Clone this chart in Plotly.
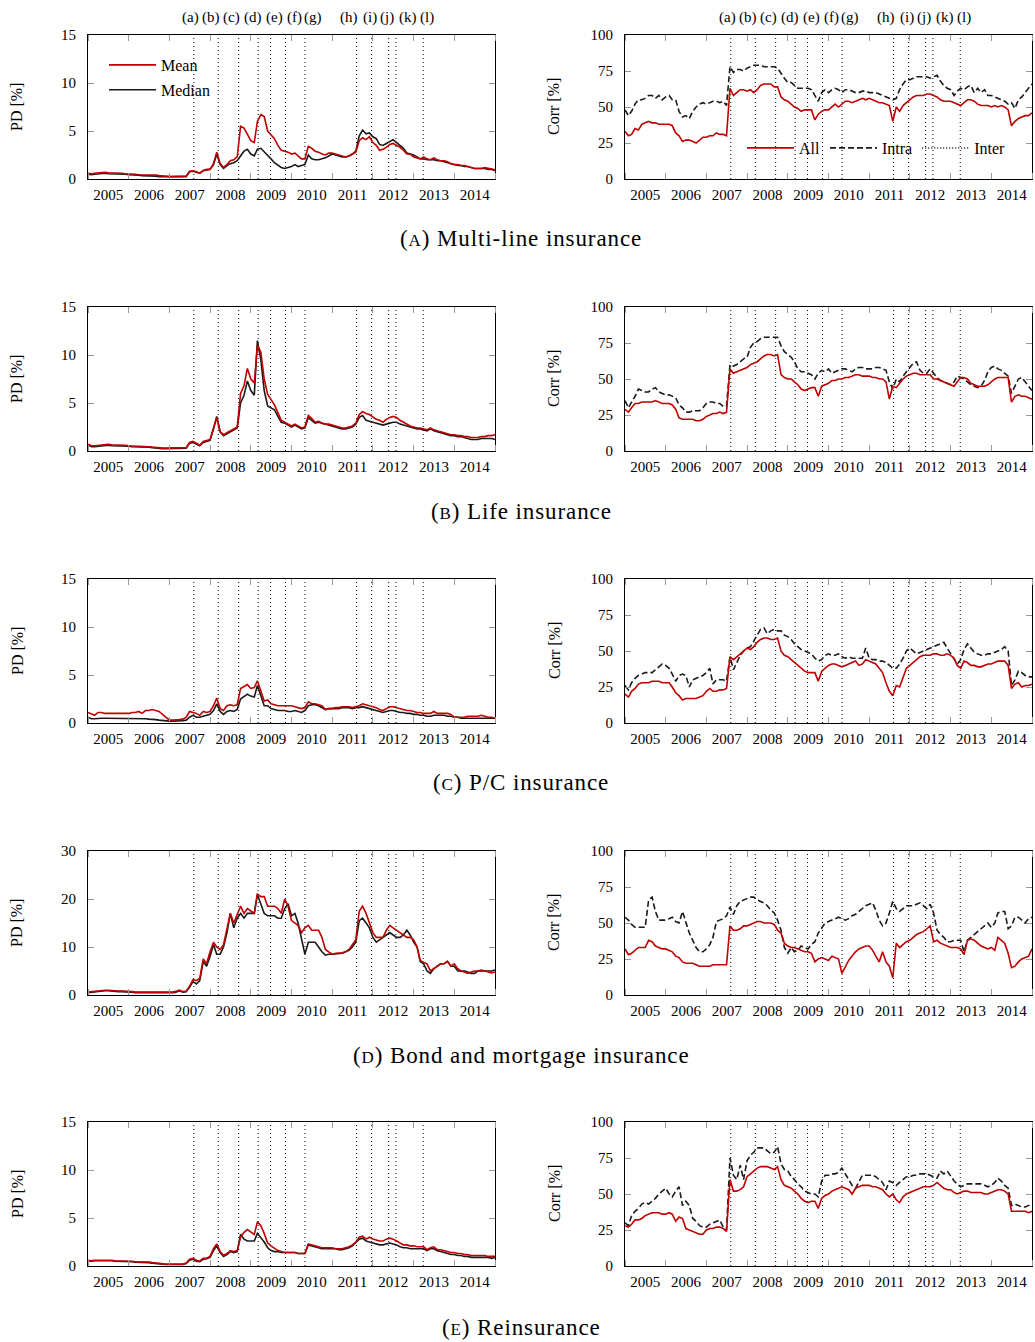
import pandas as pd
import plotly.graph_objects as go

# ---------------- data (monthly readings, Jan 2005 .. Jan 2015) ----------------
dates = pd.date_range("2005-01-01", "2015-01-01", freq="MS")

event_dates = ["2007-08-08", "2008-03-15", "2008-09-14", "2009-03-08", "2009-06-27", "2009-11-08",
               "2010-05-02", "2011-08-08", "2011-12-21", "2012-05-22", "2012-07-26", "2013-03-28"]
event_labels = ["(a)", "(b)", "(c)", "(d)", "(e)", "(f)", "(g)", "(h)", "(i)", "(j)", "(k)", "(l)"]

caption_letters = ["A", "B", "C", "D", "E"]
caption_texts = ["Multi-line insurance", "Life insurance", "P/C insurance",
                 "Bond and mortgage insurance", "Reinsurance"]

pd_mean_multiline = [
    0.6, 0.55, 0.6, 0.65, 0.7, 0.7, 0.65, 0.65, 0.6, 0.6, 0.6, 0.55,
    0.55, 0.5, 0.5, 0.45, 0.45, 0.4, 0.4, 0.4, 0.4, 0.35, 0.3, 0.25,
    0.25, 0.25, 0.25, 0.25, 0.25, 0.3, 0.8, 0.85, 0.75, 0.6, 0.9, 1.0,
    1.0, 1.6, 2.8, 1.6, 1.2, 1.5, 1.9, 2.0, 2.3, 5.5, 5.3, 4.6,
    4.0, 3.8, 6.0, 6.7, 6.5, 5.0, 4.6, 4.2, 3.5, 3.0, 2.9, 2.8,
    2.6, 2.7, 2.4, 2.1, 2.1, 3.4, 3.2, 2.9, 2.8, 2.6, 2.5, 2.7,
    2.7, 2.6, 2.5, 2.4, 2.3, 2.4, 2.6, 2.8, 4.0, 4.3, 4.1, 4.4,
    3.8, 3.5, 3.0, 3.1, 3.3, 3.6, 3.7, 3.5, 3.3, 3.0, 2.6, 2.6,
    2.3, 2.2, 2.1, 2.3, 2.1, 2.0, 2.2, 2.0, 1.9, 1.9, 1.8, 1.6,
    1.5, 1.5, 1.4, 1.4, 1.3, 1.2, 1.1, 1.1, 1.1, 1.2, 1.1, 1.0,
    0.95]
pd_median_multiline = [
    0.5, 0.45, 0.5, 0.55, 0.6, 0.6, 0.55, 0.55, 0.55, 0.5, 0.5, 0.5,
    0.45, 0.45, 0.4, 0.4, 0.35, 0.35, 0.35, 0.3, 0.3, 0.25, 0.25, 0.2,
    0.2, 0.2, 0.2, 0.2, 0.2, 0.25, 0.75, 0.8, 0.7, 0.6, 0.85, 0.95,
    1.0, 1.5, 2.6, 1.5, 1.1, 1.4, 1.6, 1.7, 1.9, 2.4, 2.9, 3.1,
    2.6, 2.4, 3.1, 3.2, 2.8, 2.5, 2.1, 1.7, 1.4, 1.2, 1.1, 1.2,
    1.3, 1.5, 1.3, 1.4, 1.5, 2.5, 2.1, 2.0, 2.0, 2.1, 2.2, 2.4,
    2.6, 2.5, 2.4, 2.3, 2.3, 2.4, 2.6, 2.9, 4.5, 5.1, 4.7, 4.8,
    4.4, 4.2, 3.6, 3.5, 3.7, 3.9, 4.1, 3.8, 3.5, 3.2, 2.7, 2.6,
    2.5, 2.3, 2.1, 2.1, 2.0, 2.0, 2.0, 1.9, 1.9, 1.8, 1.7, 1.6,
    1.5, 1.4, 1.4, 1.3, 1.3, 1.2, 1.1, 1.1, 1.1, 1.1, 1.0, 1.0,
    0.9]
corr_all_multiline = [
    33, 30, 31, 35, 34, 38, 39, 40, 39, 39, 38, 38,
    38, 38, 37, 32, 30, 26, 27, 27, 26, 25, 27, 29,
    29, 30, 30, 32, 31, 31, 30, 63, 58, 60, 62, 62,
    61, 62, 60, 62, 65, 66, 66, 66, 64, 64, 57, 55,
    54, 52, 50, 49, 47, 48, 48, 48, 41, 45, 47, 48,
    48, 50, 52, 50, 52, 54, 54, 53, 54, 55, 56, 55,
    56, 55, 54, 53, 53, 52, 51, 40, 50, 47, 51, 53,
    55, 57, 58, 58, 58, 59, 59, 58, 57, 55, 54, 54,
    54, 53, 52, 51, 53, 55, 55, 54, 52, 51, 51, 51,
    50, 51, 50, 51, 50, 48, 37, 40, 42, 43, 44, 44,
    46]
corr_intra_multiline = [
    48, 44, 47, 52, 55, 55, 56, 58, 58, 56, 58, 55,
    57, 58, 55, 55, 47, 43, 44, 42, 47, 50, 52, 53,
    52, 53, 54, 54, 53, 54, 51, 78, 74, 76, 76, 75,
    77, 78, 79, 79, 79, 78, 78, 78, 78, 77, 73, 70,
    67, 67, 65, 63, 63, 63, 63, 62, 58, 54, 60, 62,
    60, 62, 63, 62, 60, 62, 62, 61, 60, 60, 61, 61,
    60, 60, 60, 59, 58, 57, 56, 55, 56, 62, 66, 69,
    69, 70, 71, 71, 71, 71, 70, 71, 72, 68, 65, 63,
    62, 58, 61, 63, 62, 64, 65, 60, 63, 60, 62, 58,
    58, 57, 56, 55, 54, 52, 53, 49, 55, 57, 60, 63,
    66]

pd_mean_life = [
    0.7, 0.55, 0.55, 0.6, 0.65, 0.7, 0.7, 0.65, 0.65, 0.6, 0.6, 0.6,
    0.55, 0.5, 0.5, 0.5, 0.5, 0.45, 0.45, 0.4, 0.35, 0.3, 0.3, 0.3,
    0.3, 0.3, 0.3, 0.3, 0.3, 0.35, 0.9, 1.0, 0.8, 0.6, 1.0, 1.1,
    1.2, 2.4, 3.5, 2.0, 1.7, 1.9, 2.1, 2.3, 2.5, 6.0, 6.8, 8.6,
    7.5, 7.1, 11.0, 10.3, 7.5, 5.9, 5.4, 4.8, 4.0, 3.2, 3.0, 2.8,
    2.6, 2.8, 2.6, 2.4, 2.5, 3.7, 3.4, 3.0, 3.1, 2.9, 2.8, 2.8,
    2.7, 2.6, 2.5, 2.4, 2.4, 2.5, 2.6, 2.9, 3.8, 4.1, 3.9, 3.8,
    3.5, 3.3, 3.2, 3.0, 3.3, 3.5, 3.6, 3.5, 3.2, 3.0, 2.8, 2.6,
    2.5, 2.4, 2.4, 2.3, 2.2, 2.4, 2.2, 2.1, 2.0, 1.9, 1.8, 1.7,
    1.7, 1.6, 1.6, 1.5, 1.5, 1.4, 1.4, 1.4, 1.5, 1.5, 1.6, 1.6,
    1.7]
pd_median_life = [
    0.6, 0.45, 0.45, 0.5, 0.55, 0.6, 0.6, 0.55, 0.55, 0.5, 0.5, 0.5,
    0.5, 0.45, 0.45, 0.45, 0.45, 0.4, 0.4, 0.35, 0.3, 0.3, 0.25, 0.25,
    0.25, 0.25, 0.25, 0.25, 0.25, 0.3, 0.8, 0.9, 0.7, 0.55, 0.9, 1.0,
    1.1, 2.3, 3.6, 2.0, 1.6, 1.8, 2.0, 2.2, 2.4, 5.0, 5.8, 7.3,
    6.3, 5.8, 11.5, 9.5, 6.3, 4.7, 4.5, 4.3, 3.6, 3.0, 2.9, 2.7,
    2.5, 2.7, 2.5, 2.3, 2.4, 3.5, 3.2, 2.9, 3.0, 2.9, 2.8, 2.7,
    2.6, 2.5, 2.4, 2.3, 2.3, 2.4, 2.5, 2.8, 3.5, 3.7, 3.2, 3.1,
    3.0, 2.9, 2.8, 2.7, 2.8, 2.9, 3.0, 3.0, 2.8, 2.7, 2.6, 2.5,
    2.4, 2.3, 2.3, 2.2, 2.1, 2.3, 2.1, 2.0, 1.9, 1.8, 1.7, 1.6,
    1.6, 1.5, 1.5, 1.4, 1.3, 1.2, 1.2, 1.2, 1.3, 1.3, 1.3, 1.3,
    1.2]
corr_all_life = [
    29, 27, 30, 33, 33, 34, 34, 34, 34, 35, 34, 33,
    33, 33, 32, 29, 23, 22, 22, 22, 22, 21, 21, 22,
    24, 25, 26, 26, 27, 26, 27, 57, 54, 55, 56, 57,
    58, 60, 61, 62, 64, 66, 67, 67, 66, 67, 53, 51,
    50, 50, 48, 46, 43, 42, 43, 44, 44, 38, 45, 46,
    47, 49, 49, 50, 50, 51, 51, 52, 53, 53, 52, 52,
    52, 51, 51, 50, 50, 48, 36, 45, 44, 47, 50, 52,
    53, 54, 54, 53, 53, 53, 53, 50, 50, 49, 48, 47,
    46, 45, 48, 51, 51, 50, 47, 46, 45, 45, 45, 46,
    48, 50, 51, 51, 51, 51, 34, 38, 39, 38, 38, 37,
    36]
corr_intra_life = [
    35, 30, 34, 38, 43, 42, 41, 41, 43, 44, 41, 40,
    39, 39, 38, 37, 32, 30, 27, 27, 28, 28, 28, 30,
    33, 34, 34, 33, 33, 31, 31, 60, 59, 60, 62, 64,
    65, 72, 75, 76, 78, 79, 79, 79, 79, 79, 73, 69,
    67, 65, 62, 57, 55, 55, 54, 53, 50, 54, 56, 55,
    57, 54, 55, 56, 57, 57, 56, 55, 57, 58, 58, 57,
    57, 57, 58, 58, 57, 56, 48, 43, 50, 48, 52, 55,
    58, 61, 62, 56, 54, 54, 57, 54, 51, 49, 48, 47,
    46, 48, 52, 51, 50, 48, 46, 45, 44, 45, 49, 55,
    58, 59, 57, 56, 54, 52, 40, 45, 50, 51, 48, 45,
    42]

pd_mean_pc = [
    1.1, 0.9, 0.8, 1.1, 1.1, 1.0, 1.0, 1.0, 1.0, 1.0, 1.0, 1.0,
    1.0, 1.1, 1.1, 1.2, 1.0, 1.3, 1.3, 1.4, 1.3, 1.2, 0.9, 0.6,
    0.3, 0.3, 0.3, 0.35, 0.4, 0.6, 1.2, 1.1, 1.0, 0.8, 1.2, 1.1,
    1.2, 1.8, 2.6, 1.5, 1.3, 1.8, 1.9, 1.8, 1.9, 3.6, 3.8, 4.0,
    3.6, 3.7, 4.4, 3.3, 2.3, 2.4, 2.0, 1.9, 1.8, 1.8, 1.8, 1.8,
    1.8, 1.7, 1.6, 1.5, 1.6, 2.2, 2.0, 2.0, 1.9, 1.8, 1.4, 1.5,
    1.5, 1.6, 1.6, 1.7, 1.7, 1.7, 1.6, 1.7, 1.8, 2.0, 1.9, 1.8,
    1.7, 1.6, 1.4, 1.3, 1.5, 1.7, 1.7, 1.6, 1.5, 1.4, 1.3, 1.3,
    1.2, 1.1, 1.1, 1.0, 1.0, 1.0, 1.2, 1.0, 1.0, 1.0, 1.0, 0.9,
    0.6, 0.6, 0.6, 0.6, 0.7, 0.7, 0.7, 0.7, 0.8, 0.7, 0.6, 0.6,
    0.5]
pd_median_pc = [
    0.6, 0.45, 0.45, 0.5, 0.5, 0.5, 0.5, 0.5, 0.5, 0.5, 0.5, 0.5,
    0.5, 0.5, 0.5, 0.45, 0.45, 0.45, 0.4, 0.4, 0.35, 0.3, 0.25, 0.2,
    0.2, 0.2, 0.2, 0.2, 0.25, 0.3, 0.6, 0.8, 0.6, 0.6, 0.7, 0.8,
    0.9, 1.3, 2.0, 1.2, 0.9, 1.2, 1.3, 1.2, 1.4, 2.5, 2.8, 3.0,
    2.8, 2.7, 3.9, 2.8, 1.8, 1.8, 1.5, 1.4, 1.3, 1.3, 1.3, 1.2,
    1.2, 1.3, 1.2, 1.1, 1.3, 1.8, 1.9, 1.9, 1.8, 1.6, 1.4, 1.5,
    1.5, 1.5, 1.5, 1.6, 1.6, 1.6, 1.5, 1.6, 1.6, 1.7, 1.6, 1.5,
    1.4, 1.3, 1.2, 1.1, 1.2, 1.3, 1.3, 1.2, 1.1, 1.1, 1.0, 1.0,
    0.9, 0.9, 0.8, 0.8, 0.7, 0.7, 0.8, 0.8, 0.8, 0.8, 0.7, 0.7,
    0.6, 0.6, 0.5, 0.5, 0.5, 0.5, 0.5, 0.5, 0.5, 0.5, 0.5, 0.5,
    0.5]
corr_all_pc = [
    20, 18, 22, 24, 27, 28, 28, 28, 29, 29, 29, 28,
    28, 28, 25, 21, 19, 16, 17, 17, 17, 17, 18, 19,
    22, 24, 22, 22, 23, 23, 24, 46, 44, 46, 48, 50,
    52, 51, 53, 56, 58, 59, 59, 58, 58, 59, 50, 47,
    46, 44, 42, 40, 38, 36, 35, 35, 35, 29, 36, 38,
    40, 41, 41, 40, 39, 40, 41, 42, 43, 40, 41, 44,
    43, 42, 41, 38, 35, 28, 22, 19, 26, 25, 32, 38,
    40, 42, 44, 46, 47, 47, 47, 48, 48, 47, 47, 48,
    47, 45, 40, 38, 43, 42, 40, 40, 39, 39, 40, 41,
    41, 42, 43, 43, 43, 40, 24, 27, 28, 25, 26, 26,
    27]
corr_intra_pc = [
    26, 23, 28, 31, 33, 34, 35, 35, 35, 37, 39, 41,
    40, 38, 34, 29, 33, 34, 33, 25, 30, 31, 32, 33,
    35, 38, 27, 30, 30, 30, 29, 46, 37, 42, 47, 50,
    52, 53, 57, 61, 65, 66, 62, 64, 65, 64, 64, 61,
    60, 58, 55, 53, 51, 50, 49, 48, 45, 43, 44, 47,
    48, 47, 47, 48, 46, 45, 46, 45, 45, 45, 45, 52,
    45, 44, 44, 43, 43, 42, 40, 38, 38, 41, 45, 50,
    52, 50, 48, 49, 50, 51, 52, 53, 54, 55, 56, 52,
    48, 44, 41, 44, 51, 55, 52, 49, 48, 47, 47, 48,
    48, 49, 50, 51, 53, 50, 26, 30, 36, 35, 33, 32,
    32]

pd_mean_bond = [
    0.6, 0.7, 0.8, 0.9, 1.0, 1.0, 1.0, 0.9, 0.9, 0.8, 0.8, 0.8,
    0.7, 0.7, 0.6, 0.6, 0.6, 0.6, 0.6, 0.5, 0.5, 0.5, 0.5, 0.5,
    0.5, 0.6, 0.8, 1.0, 0.7, 0.8, 1.8, 3.2, 3.0, 3.5, 7.5, 6.5,
    9.0, 11.0, 10.0, 9.5, 10.5, 13.5, 17.0, 15.0, 17.0, 18.5, 17.0, 18.0,
    17.5, 17.0, 21.0, 20.5, 20.5, 18.5, 18.5, 18.5, 18.0, 17.0, 20.0, 18.5,
    15.5, 15.0, 14.5, 13.0, 14.0, 14.5, 13.5, 13.5, 13.5, 12.0, 9.5, 9.0,
    8.5, 8.7, 8.7, 8.8, 9.0, 9.5, 10.5, 11.5, 17.5, 18.5, 17.0, 15.0,
    13.0, 12.0, 12.0, 12.0, 13.5, 14.5, 14.0, 13.5, 13.0, 12.5, 12.0, 12.0,
    11.5, 10.0, 7.2, 6.8, 6.5, 5.0, 5.5, 6.0, 6.5, 6.5, 7.0, 6.0,
    6.5, 5.5, 5.0, 4.8, 4.5, 4.8, 5.0, 5.0, 5.2, 5.0, 4.8, 4.6,
    4.8]
pd_median_bond = [
    0.5, 0.6, 0.7, 0.8, 0.9, 0.9, 0.9, 0.8, 0.8, 0.7, 0.7, 0.7,
    0.6, 0.6, 0.5, 0.5, 0.5, 0.5, 0.5, 0.4, 0.4, 0.4, 0.4, 0.4,
    0.4, 0.5, 0.6, 0.9, 0.6, 0.7, 1.6, 2.8, 2.3, 3.0, 7.0, 6.0,
    8.0, 10.5, 8.5, 8.5, 10.0, 13.0, 17.0, 14.0, 16.0, 17.0, 16.0, 17.0,
    17.0, 17.0, 21.0, 19.0, 17.0, 16.5, 16.5, 16.5, 16.0, 16.0, 18.0, 19.0,
    16.5, 17.0, 15.0, 12.0, 8.5, 11.0, 11.0, 11.0, 10.0, 9.0, 8.3, 8.5,
    8.5, 8.6, 8.6, 8.7, 9.0, 9.3, 10.0, 11.0, 15.5, 16.0, 15.0, 14.0,
    12.0, 11.0, 11.5, 12.0, 12.5, 13.0, 12.5, 12.0, 12.0, 12.5, 13.5, 12.5,
    11.0, 10.0, 7.0, 6.5, 5.0, 4.5, 5.5, 6.0, 6.5, 6.5, 7.0, 6.0,
    6.0, 5.0, 5.0, 5.0, 4.8, 4.5, 4.5, 5.0, 5.0, 5.0, 5.0, 5.0,
    5.2]
corr_all_bond = [
    32, 28, 29, 31, 33, 33, 33, 38, 37, 34, 33, 32,
    32, 31, 30, 27, 26, 23, 22, 22, 22, 21, 20, 20,
    20, 20, 21, 21, 21, 21, 21, 48, 45, 45, 46, 48,
    48, 49, 50, 51, 51, 50, 50, 50, 49, 45, 43, 36,
    34, 33, 33, 32, 31, 30, 30, 29, 23, 25, 26, 25,
    24, 27, 26, 25, 15, 20, 24, 27, 30, 32, 33, 34,
    34, 31, 27, 23, 30, 23, 20, 12, 36, 33, 35, 37,
    38, 40, 42, 43, 44, 46, 48, 37, 38, 36, 35, 34,
    33, 33, 33, 32, 28, 38, 39, 38, 36, 34, 33, 32,
    33, 31, 40, 38, 36, 29, 19, 20, 23, 25, 26, 27,
    32]
corr_intra_bond = [
    54, 52, 49, 47, 47, 47, 47, 66, 68, 58, 52, 52,
    52, 53, 54, 51, 50, 58, 50, 43, 38, 33, 30, 30,
    32, 35, 40, 51, 52, 53, 55, 61, 56, 62, 65, 66,
    67, 68, 68, 66, 65, 64, 62, 59, 57, 52, 45, 33,
    29, 33, 30, 31, 34, 33, 32, 35, 37, 43, 47, 50,
    51, 52, 53, 54, 53, 52, 53, 55, 56, 58, 60, 62,
    63, 64, 59, 52, 48, 50, 57, 65, 60, 58, 60, 62,
    62, 62, 63, 64, 62, 60, 63, 57, 45, 42, 40, 37,
    37, 38, 38, 38, 30, 38, 40, 42, 44, 46, 48, 50,
    47, 50, 57, 58, 58, 46, 48, 54, 54, 52, 50, 53,
    54]

pd_mean_re = [
    0.6, 0.55, 0.6, 0.6, 0.65, 0.6, 0.6, 0.6, 0.55, 0.55, 0.55, 0.55,
    0.5, 0.5, 0.45, 0.45, 0.45, 0.4, 0.4, 0.35, 0.3, 0.25, 0.2, 0.2,
    0.2, 0.2, 0.2, 0.2, 0.2, 0.3, 0.7, 0.8, 0.6, 0.5, 0.8, 0.8,
    1.0, 1.8, 2.3, 1.5, 1.1, 1.3, 1.6, 1.5, 1.6, 3.0, 3.5, 3.8,
    3.5, 3.3, 4.6, 4.2, 3.4, 2.4, 2.1, 1.8, 1.6, 1.5, 1.4, 1.4,
    1.4, 1.4, 1.3, 1.3, 1.3, 2.3, 2.2, 2.1, 2.0, 1.9, 1.9, 1.9,
    1.9, 1.8, 1.8, 1.8, 1.9, 2.0, 2.2, 2.5, 3.0, 3.1, 2.8, 3.0,
    2.8, 2.7, 2.6, 2.6, 2.8, 2.9, 2.8, 2.6, 2.4, 2.2, 2.2, 2.1,
    2.1, 2.0, 2.0, 2.0, 1.7, 1.9, 2.0, 1.7, 1.7, 1.6, 1.5, 1.4,
    1.4, 1.3, 1.3, 1.2, 1.2, 1.1, 1.1, 1.1, 1.1, 1.1, 1.0, 1.0,
    1.0]
pd_median_re = [
    0.55, 0.5, 0.55, 0.55, 0.6, 0.55, 0.55, 0.55, 0.5, 0.5, 0.5, 0.5,
    0.45, 0.45, 0.4, 0.4, 0.4, 0.35, 0.35, 0.3, 0.25, 0.2, 0.2, 0.15,
    0.15, 0.15, 0.15, 0.15, 0.15, 0.25, 0.6, 0.7, 0.5, 0.45, 0.7, 0.75,
    0.9, 1.6, 2.1, 1.4, 1.0, 1.2, 1.5, 1.4, 1.5, 3.3, 2.8, 2.6,
    2.6, 2.6, 3.4, 3.0, 2.5, 1.9, 1.6, 1.5, 1.5, 1.4, 1.4, 1.4,
    1.4, 1.4, 1.3, 1.3, 1.3, 2.2, 2.1, 2.0, 1.9, 1.8, 1.8, 1.8,
    1.8, 1.8, 1.7, 1.7, 1.8, 1.9, 2.1, 2.4, 2.8, 2.9, 2.6, 2.5,
    2.4, 2.3, 2.2, 2.2, 2.3, 2.4, 2.3, 2.2, 2.0, 1.9, 1.9, 1.8,
    1.8, 1.8, 1.8, 1.8, 1.6, 1.8, 1.8, 1.6, 1.5, 1.4, 1.3, 1.2,
    1.2, 1.1, 1.1, 1.0, 1.0, 0.9, 0.9, 0.9, 0.9, 0.9, 0.9, 0.8,
    0.9]
corr_all_re = [
    28, 27, 29, 32, 32, 33, 35, 36, 37, 37, 37, 36,
    36, 37, 36, 31, 34, 33, 26, 25, 24, 23, 22, 22,
    25, 26, 26, 27, 27, 26, 24, 60, 52, 52, 53, 55,
    62, 64, 66, 68, 69, 69, 69, 68, 67, 69, 60, 56,
    55, 54, 52, 50, 47, 45, 44, 45, 45, 40, 47, 49,
    50, 52, 53, 54, 55, 54, 53, 50, 54, 55, 56, 56,
    56, 55, 55, 54, 53, 50, 48, 50, 46, 44, 48, 50,
    51, 52, 53, 54, 55, 55, 55, 56, 58, 56, 54, 53,
    53, 51, 50, 51, 52, 52, 51, 51, 51, 51, 50, 50,
    51, 52, 53, 53, 52, 50, 38, 38, 38, 38, 38, 37,
    38]
corr_intra_re = [
    30, 28, 35, 38, 40, 43, 44, 43, 45, 47, 50, 52,
    54, 50, 48, 52, 55, 42, 45, 42, 33, 31, 28, 27,
    27, 29, 30, 31, 32, 27, 25, 75, 63, 60, 70, 60,
    73, 77, 79, 82, 82, 82, 80, 78, 79, 83, 71, 67,
    66, 62, 60, 57, 55, 52, 51, 50, 50, 48, 59, 63,
    63, 64, 64, 65, 68, 64, 60, 56, 54, 58, 63, 63,
    63, 63, 62, 60, 58, 53, 59, 58, 56, 58, 60, 62,
    62, 63, 63, 64, 64, 64, 63, 62, 61, 66, 64, 66,
    62, 59, 57, 55, 56, 57, 57, 57, 57, 57, 56, 55,
    56, 58, 61, 59, 56, 54, 42, 43, 42, 41, 41, 42,
    43]

# ---------------- styling / layout constants ----------------
FONT = "Liberation Serif"
RED = "#c00000"
BLACK = "#1a1a1a"
W, H = 1035, 1342
LEFT_PX = (88, 495)
RIGHT_PX = (625, 1032)
ROW_TOP_PX = [35, 307, 579, 851, 1122]
PANEL_H_PX = 144
CAPTION_Y_PX = [239, 511, 783, 1055, 1327]
EVENT_LABEL_OFFSETS = [102.7, 123.2, 143.2, 165.0, 186.0, 206.0, 225.2, 260.6, 282.0, 299.0, 320.0, 338.6]

panels = [
    (pd_mean_multiline, pd_median_multiline, corr_all_multiline, corr_intra_multiline, 15),
    (pd_mean_life, pd_median_life, corr_all_life, corr_intra_life, 15),
    (pd_mean_pc, pd_median_pc, corr_all_pc, corr_intra_pc, 15),
    (pd_mean_bond, pd_median_bond, corr_all_bond, corr_intra_bond, 30),
    (pd_mean_re, pd_median_re, corr_all_re, corr_intra_re, 15),
]

fig = go.Figure()
layout = dict(
    width=W, height=H, autosize=False,
    margin=dict(l=0, r=0, t=0, b=0, pad=0, autoexpand=False),
    paper_bgcolor="white", plot_bgcolor="white",
    font=dict(family=FONT, color="black", size=15),
    shapes=[], annotations=[],
)

def xcfg(domain, anchor):
    return dict(domain=domain, anchor=anchor, type="date", automargin=False,
                range=["2005-01-01", "2015-01-01"], tick0="2005-01-01", dtick="M12",
                tickformat="%Y", ticklabelmode="period",
                ticks="inside", ticklen=6, tickcolor="#9a9a9a", tickwidth=1,
                showline=True, linecolor="black", linewidth=1, mirror="allticks",
                showgrid=False, zeroline=False, ticklabelstandoff=2,
                tickfont=dict(family=FONT, size=15, color="black"))

def ycfg(domain, anchor, ymax, step):
    return dict(domain=domain, anchor=anchor, range=[0, ymax], automargin=False,
                tickvals=list(range(0, ymax + 1, step)),
                ticks="inside", ticklen=6, tickcolor="#9a9a9a", tickwidth=1,
                showline=True, linecolor="black", linewidth=1, mirror="allticks",
                showgrid=False, zeroline=False, ticklabelstandoff=8,
                tickfont=dict(family=FONT, size=15, color="black"))

for r, (mean_v, med_v, all_v, intra_v, pdmax) in enumerate(panels):
    top = ROW_TOP_PX[r]
    ydom = [1 - (top + PANEL_H_PX) / H, 1 - top / H]
    for c in range(2):
        n = 2 * r + c + 1
        sfx = "" if n == 1 else str(n)
        xa, ya = f"x{sfx}", f"y{sfx}"
        xpx = LEFT_PX if c == 0 else RIGHT_PX
        xdom = [xpx[0] / W, xpx[1] / W]
        layout[f"xaxis{sfx}"] = xcfg(xdom, ya)
        if c == 0:
            layout[f"yaxis{sfx}"] = ycfg(ydom, xa, pdmax, 5 if pdmax == 15 else 10)
            fig.add_trace(go.Scatter(x=dates, y=med_v, mode="lines", name="Median",
                                     line=dict(color=BLACK, width=1.6), xaxis=xa, yaxis=ya,
                                     showlegend=(r == 0), legend="legend", legendrank=2,
                                     legendgroup="median"))
            fig.add_trace(go.Scatter(x=dates, y=mean_v, mode="lines", name="Mean",
                                     line=dict(color=RED, width=1.6), xaxis=xa, yaxis=ya,
                                     showlegend=(r == 0), legend="legend", legendrank=1,
                                     legendgroup="mean"))
            ytitle, tx = "PD [%]", 17
        else:
            layout[f"yaxis{sfx}"] = ycfg(ydom, xa, 100, 25)
            fig.add_trace(go.Scatter(x=dates, y=intra_v, mode="lines", name="Intra",
                                     line=dict(color=BLACK, width=1.6, dash="6px,3px"),
                                     xaxis=xa, yaxis=ya, showlegend=(r == 0),
                                     legend="legend2", legendrank=2))
            fig.add_trace(go.Scatter(x=dates, y=all_v, mode="lines", name="All",
                                     line=dict(color=RED, width=1.6), xaxis=xa, yaxis=ya,
                                     showlegend=(r == 0), legend="legend2", legendrank=1))
            if r == 0:
                fig.add_trace(go.Scatter(x=[None], y=[None], mode="lines", name="Inter",
                                         line=dict(color=BLACK, width=1.5, dash="1px,2px"),
                                         xaxis=xa, yaxis=ya, legend="legend2", legendrank=3))
            ytitle, tx = "Corr [%]", 554
        # event lines
        for d in event_dates:
            layout["shapes"].append(dict(type="line", xref=xa, yref=f"{ya} domain",
                                         x0=d, x1=d, y0=0, y1=1, layer="below",
                                         line=dict(color="black", width=1, dash="1px,3px")))
        # y title
        layout["annotations"].append(dict(text=ytitle, xref="paper", yref="paper",
                                          x=tx / W, y=(ydom[0] + ydom[1]) / 2, textangle=-90,
                                          showarrow=False, xanchor="center", yanchor="middle",
                                          font=dict(family=FONT, size=16, color="black")))
        # event labels on top row
        if r == 0:
            for lab, off in zip(event_labels, EVENT_LABEL_OFFSETS):
                layout["annotations"].append(dict(text=lab, xref=f"{xa} domain", yref="paper",
                                                  x=off / (xpx[1] - xpx[0]), y=1 - 17 / H,
                                                  showarrow=False, xanchor="center",
                                                  yanchor="middle",
                                                  font=dict(family=FONT, size=15, color="black")))
    cap = (f"<span style='letter-spacing:0.9px'>(<span style='font-size:17px'>"
           f"{caption_letters[r]}</span>) {caption_texts[r]}</span>")
    layout["annotations"].append(dict(text=cap, xref="paper", yref="paper",
                                      x=521 / W, y=1 - CAPTION_Y_PX[r] / H, showarrow=False,
                                      xanchor="center", yanchor="middle",
                                      font=dict(family=FONT, size=23, color="black")))

layout["legend"] = dict(x=104 / W, y=1 - 48 / H, xanchor="left", yanchor="top",
                        bgcolor="rgba(0,0,0,0)", font=dict(family=FONT, size=16, color="black"),
                        tracegroupgap=1, itemwidth=47)
layout["legend2"] = dict(x=742 / W, y=1 - 148 / H, xanchor="left", yanchor="middle",
                         orientation="h", bgcolor="rgba(0,0,0,0)", itemwidth=47,
                         font=dict(family=FONT, size=16, color="black"))

fig.update_layout(**layout)
fig.write_html("out.html")
